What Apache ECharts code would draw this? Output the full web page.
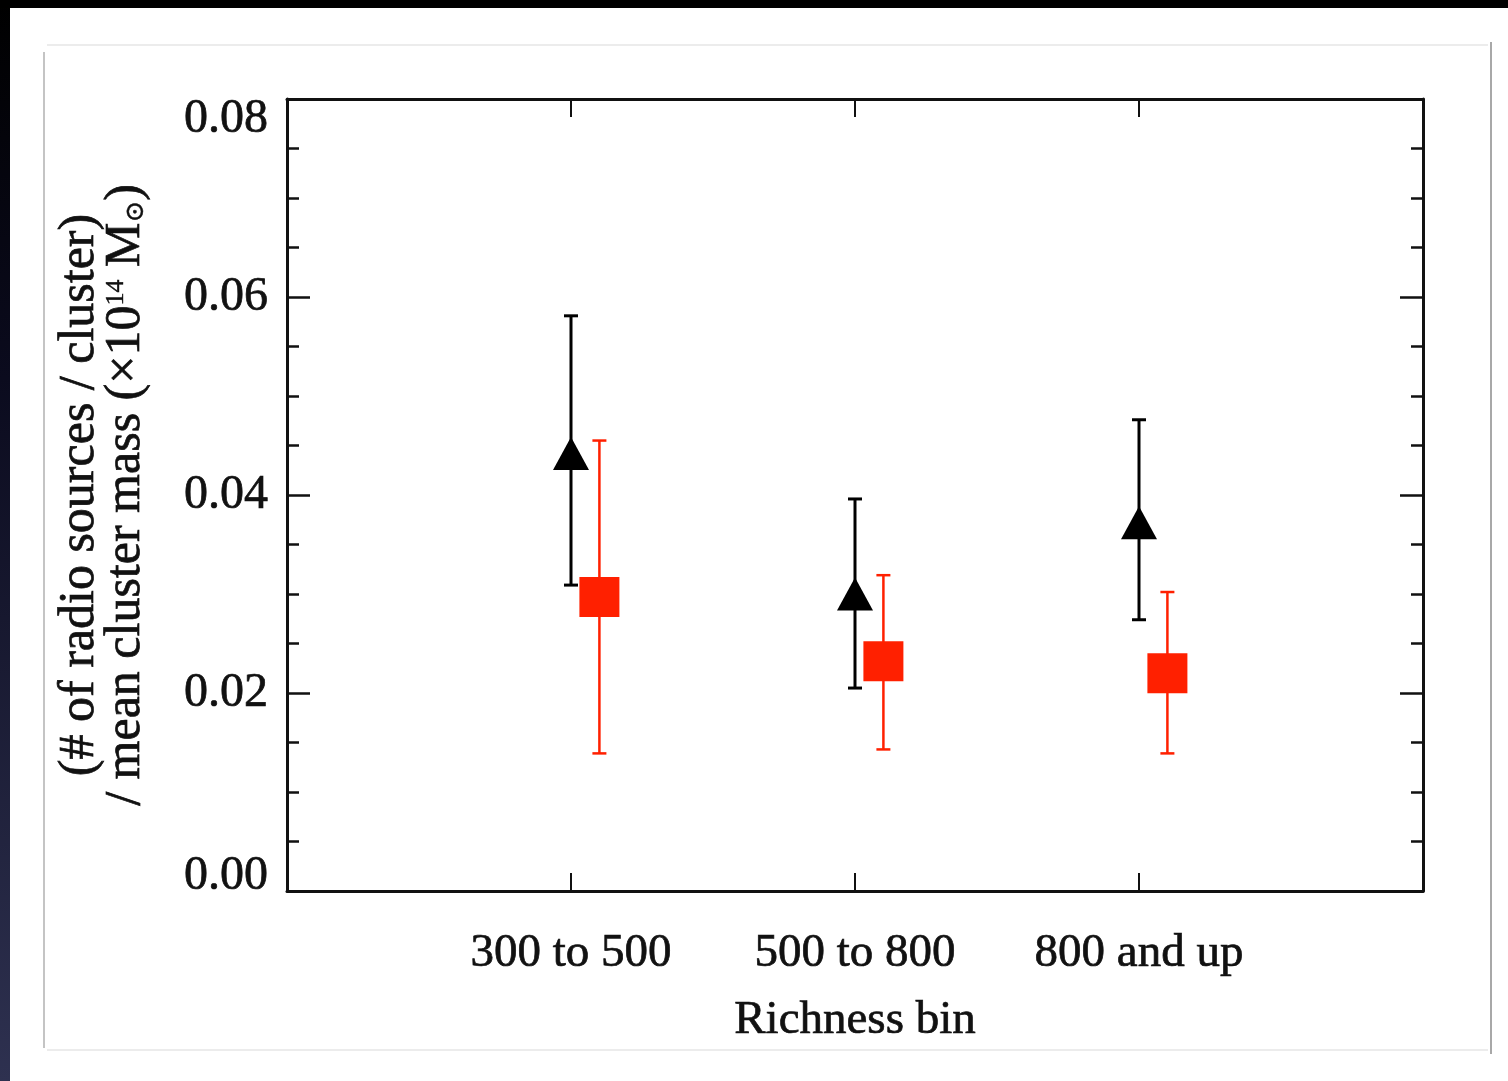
<!DOCTYPE html>
<html>
<head>
<meta charset="utf-8">
<title>Radio sources per cluster mass by richness bin</title>
<script src="https://cdn.jsdelivr.net/npm/echarts@6/dist/echarts.min.js"></script>
<style>
  html, body { margin: 0; padding: 0; background: #ffffff; }
  #chart { width: 1508px; height: 1081px; }
</style>
</head>
<body>
<div id="chart"></div>
<script>
// Richness bins (x categories) and their positions on the x scale
const binLabels = ['300 to 500', '500 to 800', '800 and up'];
const binPos = [1, 2, 3];

// Black triangles: value with lower / upper error limits
const blackVals = [0.0442, 0.0300, 0.0372];
const blackLow  = [0.0309, 0.0205, 0.0274];
const blackHigh = [0.0581, 0.0396, 0.0476];

// Red squares: value with lower / upper error limits
const redVals = [0.0297, 0.0232, 0.0220];
const redLow  = [0.0139, 0.0143, 0.0139];
const redHigh = [0.0455, 0.0319, 0.0302];

// Y tick values
const yTicks = [0.00, 0.02, 0.04, 0.06, 0.08];

// red points sit slightly to the right of each bin centre
const redShift = 0.1;

const FONT = '"Liberation Serif", "DejaVu Serif", serif';
const INK = '#111111';
// slightly heavier glyphs
const ink = { color: INK, textBorderColor: INK, textBorderWidth: 0.7, fontFamily: FONT };

const blackPts = binPos.map((x, i) => [x, blackVals[i]]);
const blackErr = binPos.map((x, i) => [x, blackLow[i], blackHigh[i]]);
const redPts = binPos.map((x, i) => [x + redShift, redVals[i]]);
const redErr = binPos.map((x, i) => [x + redShift, redLow[i], redHigh[i]]);

function errorBars(color, width, capHalf) {
  return function (params, api) {
    const x = api.value(0);
    const lo = api.coord([x, api.value(1)]);
    const hi = api.coord([x, api.value(2)]);
    const st = { stroke: color, lineWidth: width };
    return {
      type: 'group',
      children: [
        { type: 'line', shape: { x1: lo[0], y1: lo[1], x2: hi[0], y2: hi[1] }, style: st },
        { type: 'line', shape: { x1: lo[0] - capHalf, y1: lo[1], x2: lo[0] + capHalf, y2: lo[1] }, style: st },
        { type: 'line', shape: { x1: hi[0] - capHalf, y1: hi[1], x2: hi[0] + capHalf, y2: hi[1] }, style: st }
      ]
    };
  };
}

const axisLine = { show: true, onZero: false, lineStyle: { color: INK, width: 3 } };
const xTick = { show: true, inside: true, length: 18, customValues: binPos, lineStyle: { color: INK, width: 2 } };
const yTick = { show: true, inside: true, length: 23, lineStyle: { color: INK, width: 2.5 } };
const yMinor = { show: true, splitNumber: 4, length: 12, lineStyle: { color: INK, width: 2.5 } };

// end labels are pulled inside the axis range
function yLabel(v) {
  const s = v.toFixed(2);
  if (v >= yTicks[yTicks.length - 1] - 1e-9) return '{top|' + s + '}';
  if (v <= yTicks[0] + 1e-9) return '{bot|' + s + '}';
  return s;
}

const chart = echarts.init(document.getElementById('chart'), null, { renderer: 'canvas' });

chart.setOption({
  animation: false,
  backgroundColor: '#ffffff',
  graphic: [
    // dark frame strips along the top and left edge
    {
      type: 'rect', silent: true, z: -10,
      shape: { x: 0, y: 0, width: 10, height: 1081 },
      style: {
        fill: new echarts.graphic.LinearGradient(0, 0, 0, 1, [
          { offset: 0, color: '#000000' },
          { offset: 0.35, color: '#0b0b1e' },
          { offset: 1, color: '#2e3150' }
        ])
      }
    },
    { type: 'rect', silent: true, z: -10, shape: { x: 0, y: 0, width: 1508, height: 8 }, style: { fill: '#000000' } },
    // thin panel outline
    { type: 'line', silent: true, z: -10, shape: { x1: 47, y1: 45, x2: 1488, y2: 45 }, style: { stroke: '#ececec', lineWidth: 2 } },
    { type: 'line', silent: true, z: -10, shape: { x1: 47, y1: 1050, x2: 1488, y2: 1050 }, style: { stroke: '#ececec', lineWidth: 2 } },
    { type: 'line', silent: true, z: -10, shape: { x1: 44, y1: 52, x2: 44, y2: 1048 }, style: { stroke: '#c4c4c4', lineWidth: 2 } },
    { type: 'line', silent: true, z: -10, shape: { x1: 1491, y1: 42, x2: 1491, y2: 1054 }, style: { stroke: '#a8a8a8', lineWidth: 2 } }
  ],
  grid: { left: 287, top: 99, width: 1136, height: 792, containLabel: false },
  xAxis: [
    {
      type: 'value', position: 'bottom', min: 0, max: 4, interval: 1,
      splitLine: { show: false },
      axisLine: axisLine,
      axisTick: xTick,
      axisLabel: Object.assign({
        show: true, customValues: binPos, margin: 39, fontSize: 47,
        formatter: (v) => binLabels[Math.round(v) - 1]
      }, ink),
      name: 'Richness bin', nameLocation: 'middle', nameGap: 106,
      nameTextStyle: Object.assign({ fontSize: 47 }, ink)
    },
    {
      type: 'value', position: 'top', min: 0, max: 4, interval: 1,
      splitLine: { show: false },
      axisLine: axisLine,
      axisTick: xTick,
      axisLabel: { show: false }
    }
  ],
  yAxis: [
    {
      type: 'value', position: 'left', min: yTicks[0], max: yTicks[yTicks.length - 1], interval: 0.02,
      splitLine: { show: false },
      axisLine: axisLine,
      axisTick: yTick,
      minorTick: yMinor,
      minorSplitLine: { show: false },
      axisLabel: Object.assign({
        margin: 19, fontSize: 48,
        formatter: yLabel,
        rich: {
          top: Object.assign({ fontSize: 48, padding: [40, 0, 0, 0] }, ink),
          bot: Object.assign({ fontSize: 48, padding: [0, 0, 30, 0] }, ink)
        }
      }, ink),
      name: '(# of radio sources / cluster)\n/ mean cluster mass (×10{sup|14} M{sub|⊙})',
      nameLocation: 'middle', nameRotate: 90, nameGap: 138,
      nameTextStyle: Object.assign({
        fontSize: 50, lineHeight: 46, align: 'center',
        rich: {
          sup: Object.assign({ fontSize: 26, verticalAlign: 'top', lineHeight: 46 }, ink, { textBorderWidth: 0.4 }),
          sub: Object.assign({ fontSize: 26, verticalAlign: 'bottom', lineHeight: 46 }, ink, { textBorderWidth: 0.4 })
        }
      }, ink)
    },
    {
      type: 'value', position: 'right', min: yTicks[0], max: yTicks[yTicks.length - 1], interval: 0.02,
      splitLine: { show: false },
      axisLine: axisLine,
      axisTick: yTick,
      minorTick: yMinor,
      minorSplitLine: { show: false },
      axisLabel: { show: false }
    }
  ],
  series: [
    {
      name: 'black error', type: 'custom', xAxisIndex: 0, yAxisIndex: 0,
      renderItem: errorBars('#000000', 3, 7), data: blackErr, z: 2
    },
    {
      name: 'black', type: 'scatter', xAxisIndex: 0, yAxisIndex: 0,
      symbol: 'triangle', symbolSize: [36, 33],
      itemStyle: { color: '#000000', opacity: 1 }, data: blackPts, z: 3
    },
    {
      name: 'red error', type: 'custom', xAxisIndex: 0, yAxisIndex: 0,
      renderItem: errorBars('#ff2000', 2.5, 7), data: redErr, z: 4
    },
    {
      name: 'red', type: 'scatter', xAxisIndex: 0, yAxisIndex: 0,
      symbol: 'rect', symbolSize: 40,
      itemStyle: { color: '#ff2000', opacity: 1 }, data: redPts, z: 5
    }
  ]
});
</script>
</body>
</html>
